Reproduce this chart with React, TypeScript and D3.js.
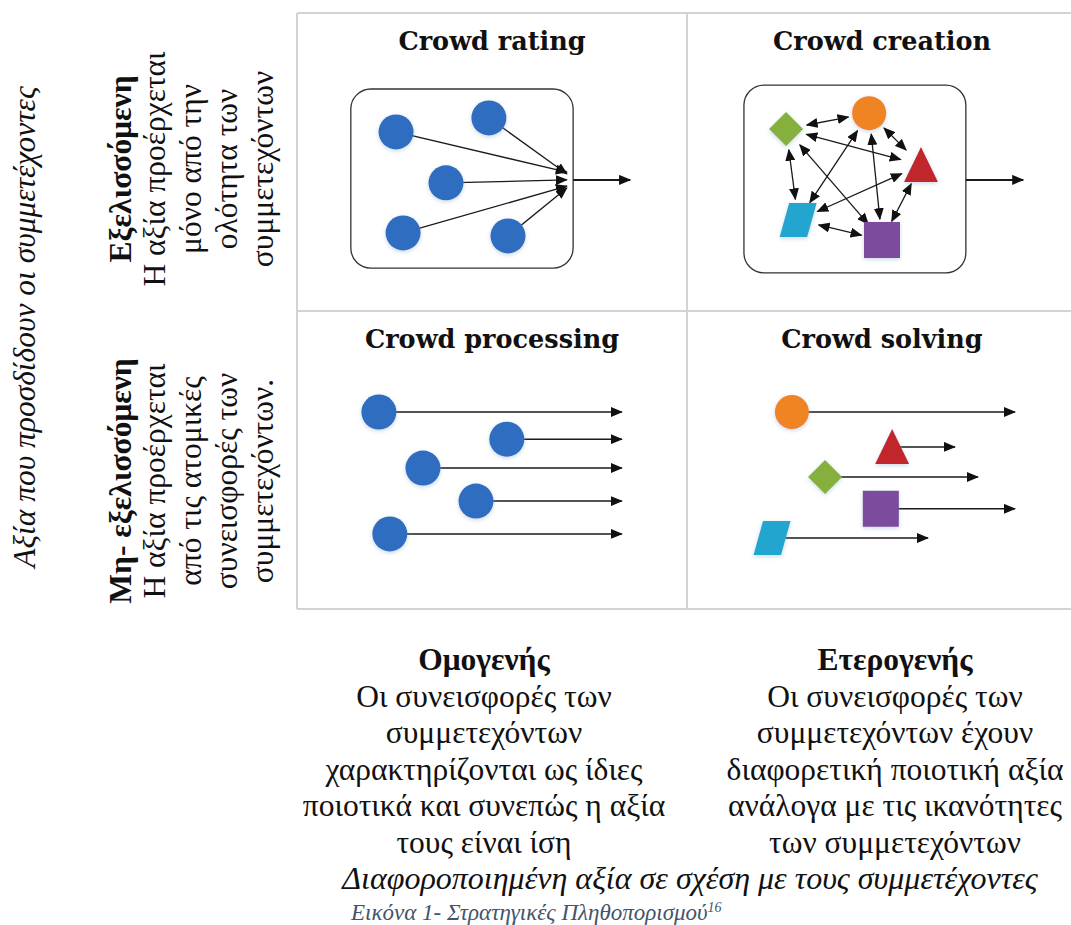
import React from 'react';
import * as d3 from 'd3';

const WIDTH = 1071;
const HEIGHT = 925;

// 2x2 grid, one cell per crowdsourcing strategy
const panelTitles = ['Crowd rating', 'Crowd creation', 'Crowd processing', 'Crowd solving'];

// node positions are in cell units: 0-100 across and 0-100 down
const ratingNodes = [
  { u: 25.4, v: 39.9, tv: 53.4 },
  { u: 49.2, v: 35.2, tv: 54.0 },
  { u: 38.2, v: 57.0, tv: 56.0 },
  { u: 27.2, v: 73.8, tv: 58.1 },
  { u: 54.1, v: 74.8, tv: 58.7 },
];
const ratingHub = { u: 69.2, outTo: 85.4, v: 56.0 };
const ratingBox = [13.8, 25.5, 70.8, 85.6];

const creationNodes = [
  { kind: 'diamond', u: 25.4, v: 38.9 },
  { kind: 'circle', u: 46.7, v: 33.6 },
  { kind: 'triangle', u: 60.0, v: 51.0 },
  { kind: 'para', u: 28.5, v: 69.5 },
  { kind: 'square', u: 50.0, v: 76.2 },
];
const creationBox = [14.6, 24.2, 71.5, 87.2];
const creationOut = { from: 71.5, to: 86.2, v: 56.0 };

const processingNodes = [
  { u: 21.0, v: 33.9, end: 83.3 },
  { u: 53.8, v: 43.0, end: 83.3 },
  { u: 32.3, v: 52.7, end: 83.3 },
  { u: 45.9, v: 63.8, end: 83.3 },
  { u: 23.8, v: 74.8, end: 83.3 },
];

const solvingNodes = [
  { kind: 'circle', u: 26.9, v: 33.9, end: 84.1 },
  { kind: 'triangle', u: 52.6, v: 45.6, end: 68.7 },
  { kind: 'diamond', u: 35.4, v: 55.7, end: 74.6 },
  { kind: 'square', u: 49.7, v: 66.4, end: 84.1 },
  { kind: 'para', u: 21.8, v: 76.2, end: 61.8 },
];

const yAxisTitle = 'Αξία που προσδίδουν οι συμμετέχοντες';
const rowHeads = ['Εξελισσόμενη', 'Μη- εξελισσόμενη'];
const rowLines = [
  ['Η αξία προέρχεται', 'μόνο από την', 'ολότητα των', 'συμμετεχόντων'],
  ['Η αξία προέρχεται', 'από τις ατομικές', 'συνεισφορές των', 'συμμετεχόντων.'],
];
const colHeads = ['Ομογενής', 'Ετερογενής'];
const colLines = [
  ['Οι συνεισφορές των', 'συμμετεχόντων', 'χαρακτηρίζονται ως ίδιες', 'ποιοτικά και συνεπώς η αξία', 'τους είναι ίση'],
  ['Οι συνεισφορές των', 'συμμετεχόντων έχουν', 'διαφορετική ποιοτική αξία', 'ανάλογα με τις ικανότητες', 'των συμμετεχόντων'],
];
const xAxisTitle = 'Διαφοροποιημένη αξία σε σχέση με τους συμμετέχοντες';
const caption = 'Εικόνα 1- Στρατηγικές Πληθοπορισμού';
const captionRef = '16';

// layout
const gridX0 = 297;
const gridY0 = 13;
const cellW = 390;
const cellH = 298;
const serif = '"Liberation Serif", "Times New Roman", serif';
const titleFont = '"DejaVu Serif", serif';
const bodySize = 31.5;

const colors: Record<string, string> = {
  blue: '#2f6dbf',
  circle: '#f08322',
  diamond: '#86b03e',
  triangle: '#c1282b',
  para: '#22a5cf',
  square: '#7b4c9e',
};

function cellScales(col: number, row: number) {
  const x = d3.scaleLinear().domain([0, 100]).range([gridX0 + col * cellW, gridX0 + (col + 1) * cellW]);
  const y = d3.scaleLinear().domain([0, 100]).range([gridY0 + row * cellH, gridY0 + (row + 1) * cellH]);
  return { x, y };
}

function shapePath(kind: string, cx: number, cy: number) {
  const p = d3.path();
  if (kind === 'circle') {
    p.arc(cx, cy, 17, 0, Math.PI * 2);
  } else if (kind === 'diamond') {
    p.moveTo(cx, cy - 17); p.lineTo(cx + 17, cy); p.lineTo(cx, cy + 17); p.lineTo(cx - 17, cy); p.closePath();
  } else if (kind === 'triangle') {
    p.moveTo(cx, cy - 18); p.lineTo(cx + 17, cy + 17); p.lineTo(cx - 17, cy + 17); p.closePath();
  } else if (kind === 'square') {
    p.rect(cx - 18, cy - 18, 36, 36);
  } else {
    p.moveTo(cx - 9, cy - 17); p.lineTo(cx + 18.5, cy - 17); p.lineTo(cx + 9, cy + 17); p.lineTo(cx - 18.5, cy + 17); p.closePath();
  }
  return p.toString();
}

const Arrow = ({ x1, y1, x2, y2, both = false, w = 1.4 }: any) => (
  <line x1={x1} y1={y1} x2={x2} y2={y2} stroke="#1a1a1a" strokeWidth={w}
    markerEnd="url(#head)" markerStart={both ? 'url(#headStart)' : undefined} />
);

const App: React.FC = () => {
  const rating = cellScales(0, 0);
  const creation = cellScales(1, 0);
  const processing = cellScales(0, 1);
  const solving = cellScales(1, 1);
  const cells = [rating, creation, processing, solving];
  const titleY = [50, 50, 348, 348];

  // every pair in the creation network is linked both ways
  const edges: [number, number][] = [];
  creationNodes.forEach((_, i) => creationNodes.forEach((__, j) => { if (j > i) edges.push([i, j]); }));

  const box = (s: any, b: number[]) => (
    <rect x={s.x(b[0])} y={s.y(b[1])} width={s.x(b[2]) - s.x(b[0])} height={s.y(b[3]) - s.y(b[1])}
      rx={20} fill="white" stroke="#333" strokeWidth={1.3} />
  );

  return (
    <svg width={WIDTH} height={HEIGHT} style={{ display: 'block', position: 'absolute', left: 0, top: 0, background: 'white' }}>
      <defs>
        <marker id="head" viewBox="0 0 12 10" refX="11" refY="5" markerWidth="12" markerHeight="10"
          markerUnits="userSpaceOnUse" orient="auto">
          <path d="M0,0 L12,5 L0,10 Z" fill="#111" />
        </marker>
        <marker id="headStart" viewBox="0 0 12 10" refX="11" refY="5" markerWidth="12" markerHeight="10"
          markerUnits="userSpaceOnUse" orient="auto-start-reverse">
          <path d="M0,0 L12,5 L0,10 Z" fill="#111" />
        </marker>
        <filter id="glow" x="-40%" y="-40%" width="180%" height="180%">
          <feDropShadow dx="0" dy="1.5" stdDeviation="2" floodColor="#8aa6c8" floodOpacity="0.45" />
        </filter>
      </defs>

      {/* grid */}
      <g stroke="#d3d3d3" strokeWidth={2}>
        {[0, 1, 2].map(r => <line key={'h' + r} x1={gridX0} x2={WIDTH} y1={gridY0 + r * cellH} y2={gridY0 + r * cellH} />)}
        {[0, 1].map(c => <line key={'v' + c} x1={gridX0 + c * cellW} x2={gridX0 + c * cellW} y1={gridY0} y2={gridY0 + 2 * cellH} />)}
      </g>

      {/* panel titles */}
      {panelTitles.map((t, i) => (
        <text key={t} x={cells[i].x(50)} y={titleY[i]} textAnchor="middle" fontFamily={titleFont}
          fontWeight="bold" fontSize={25.5} fill="#111">{t}</text>
      ))}

      {/* crowd rating */}
      {box(rating, ratingBox)}
      {ratingNodes.map((d, i) => (
        <Arrow key={'ra' + i} x1={rating.x(d.u)} y1={rating.y(d.v)} x2={rating.x(ratingHub.u)} y2={rating.y(d.tv)} w={1.3} />
      ))}
      {ratingNodes.map((d, i) => (
        <circle key={'rc' + i} cx={rating.x(d.u)} cy={rating.y(d.v)} r={17.5} fill={colors.blue} filter="url(#glow)" />
      ))}
      <Arrow x1={rating.x(ratingBox[2])} y1={rating.y(ratingHub.v)} x2={rating.x(ratingHub.outTo)} y2={rating.y(ratingHub.v)} w={2} />

      {/* crowd creation */}
      {box(creation, creationBox)}
      {edges.map(([i, j]) => {
        const a = creationNodes[i], b = creationNodes[j];
        const x1 = creation.x(a.u), y1 = creation.y(a.v), x2 = creation.x(b.u), y2 = creation.y(b.v);
        const len = Math.hypot(x2 - x1, y2 - y1);
        const ux = (x2 - x1) / len, uy = (y2 - y1) / len;
        const pad = 21;
        return <Arrow key={'ce' + i + j} both w={1.3}
          x1={x1 + ux * pad} y1={y1 + uy * pad} x2={x2 - ux * pad} y2={y2 - uy * pad} />;
      })}
      {creationNodes.map(d => (
        <path key={'cn' + d.kind} d={shapePath(d.kind, creation.x(d.u), creation.y(d.v))} fill={colors[d.kind]} filter="url(#glow)" />
      ))}
      <Arrow x1={creation.x(creationOut.from)} y1={creation.y(creationOut.v)} x2={creation.x(creationOut.to)} y2={creation.y(creationOut.v)} w={2} />

      {/* crowd processing */}
      {processingNodes.map((d, i) => (
        <g key={'pn' + i}>
          <Arrow x1={processing.x(d.u)} y1={processing.y(d.v)} x2={processing.x(d.end)} y2={processing.y(d.v)} w={1.5} />
          <circle cx={processing.x(d.u)} cy={processing.y(d.v)} r={17.5} fill={colors.blue} filter="url(#glow)" />
        </g>
      ))}

      {/* crowd solving */}
      {solvingNodes.map((d, i) => (
        <g key={'sn' + i}>
          <Arrow x1={solving.x(d.u)} y1={solving.y(d.v)} x2={solving.x(d.end)} y2={solving.y(d.v)} w={1.5} />
          <path d={shapePath(d.kind, solving.x(d.u), solving.y(d.v))} fill={colors[d.kind]} filter="url(#glow)" />
        </g>
      ))}

      {/* left side: rotated labels */}
      <text transform="translate(35,327) rotate(-90)" textAnchor="middle" fontFamily={serif}
        fontStyle="italic" fontSize={bodySize} fill="#111">{yAxisTitle}</text>
      {rowHeads.map((h, r) => {
        const cy = [169, 481][r];
        const lines = [h, ...rowLines[r]];
        return lines.map((t, k) => (
          <text key={'rl' + r + k} transform={`translate(${[131, 165, 201, 237, 273][k]},${cy}) rotate(-90)`}
            textAnchor="middle" fontFamily={serif} fontSize={bodySize} fontWeight={k === 0 ? 'bold' : 'normal'} fill="#111">{t}</text>
        ));
      })}

      {/* bottom: column labels */}
      {colHeads.map((h, c) => {
        const cx = [484, 895][c];
        const lines = [h, ...colLines[c]];
        return lines.map((t, k) => (
          <text key={'cl' + c + k} x={cx} y={670 + k * 36.5} textAnchor="middle" fontFamily={serif}
            fontSize={bodySize} fontWeight={k === 0 ? 'bold' : 'normal'} fill="#111">{t}</text>
        ));
      })}
      <text x={690} y={889} textAnchor="middle" fontFamily={serif} fontStyle="italic" fontSize={32} fill="#111">{xAxisTitle}</text>
      <text x={351} y={920} fontFamily={serif} fontStyle="italic" fontSize={23} fill="#44546a">
        {caption}<tspan dy={-8} fontSize={14}>{captionRef}</tspan>
      </text>
    </svg>
  );
};

export default App;
